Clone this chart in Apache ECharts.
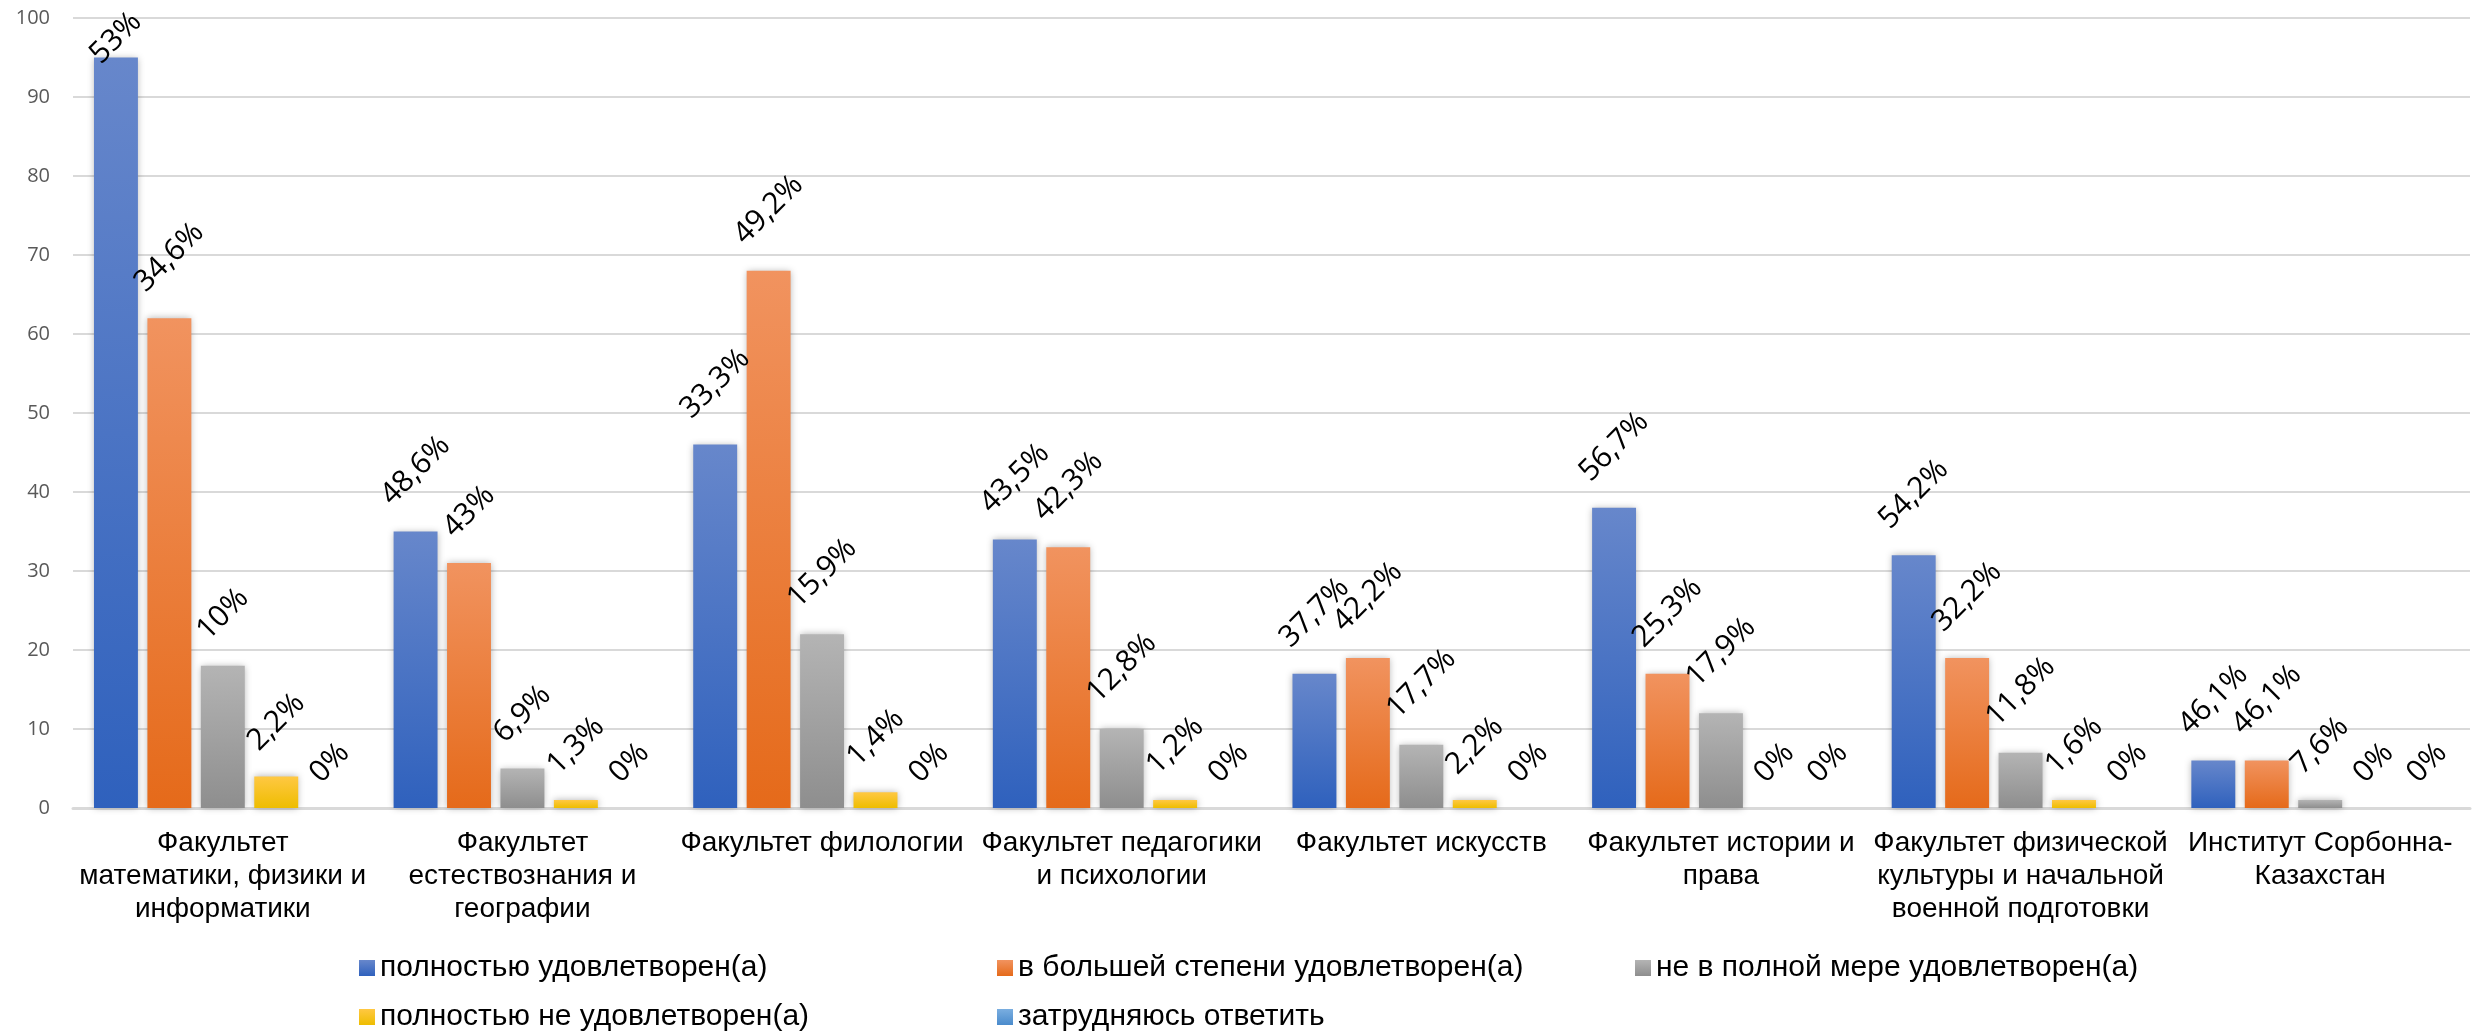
<!DOCTYPE html>
<html><head><meta charset="utf-8">
<script src="https://cdn.jsdelivr.net/npm/echarts@6/dist/echarts.min.js"></script>
<style>html,body{margin:0;padding:0;background:#fff}#c{width:2481px;height:1033px}</style>
</head><body><div id="c"></div>
<script>
const categories = [
  'Факультет\nматематики, физики и\nинформатики',
  'Факультет\nестествознания и\nгеографии',
  'Факультет филологии',
  'Факультет педагогики\nи психологии',
  'Факультет искусств',
  'Факультет истории и\nправа',
  'Факультет физической\nкультуры и начальной\nвоенной подготовки',
  'Институт Сорбонна-\nКазахстан'
];
const seriesNames = [
  'полностью удовлетворен(а)',
  'в большей степени удовлетворен(а)',
  'не в полной мере удовлетворен(а)',
  'полностью не удовлетворен(а)',
  'затрудняюсь ответить'
];
const fullySatisfied  = [95, 35, 46, 34, 17, 38, 32, 6];
const mostlySatisfied = [62, 31, 68, 33, 19, 17, 19, 6];
const partlySatisfied = [18, 5, 22, 10, 8, 12, 7, 1];
const notSatisfied    = [4, 1, 2, 1, 1, 0, 1, 0];
const hardToSay       = [0, 0, 0, 0, 0, 0, 0, 0];
const fullyLabels  = ['53%', '48,6%', '33,3%', '43,5%', '37,7%', '56,7%', '54,2%', '46,1%'];
const mostlyLabels = ['34,6%', '43%', '49,2%', '42,3%', '42,2%', '25,3%', '32,2%', '46,1%'];
const partlyLabels = ['10%', '6,9%', '15,9%', '12,8%', '17,7%', '17,9%', '11,8%', '7,6%'];
const notLabels    = ['2,2%', '1,3%', '1,4%', '1,2%', '2,2%', '0%', '1,6%', '0%'];
const hardLabels   = ['0%', '0%', '0%', '0%', '0%', '0%', '0%', '0%'];
const yTicks = [0, 10, 20, 30, 40, 50, 60, 70, 80, 90, 100];

const values = [fullySatisfied, mostlySatisfied, partlySatisfied, notSatisfied, hardToSay];
const labels = [fullyLabels, mostlyLabels, partlyLabels, notLabels, hardLabels];
const gradients = [
  ['#6787cb', '#2f61bd'],
  ['#f1935f', '#e56a1a'],
  ['#b4b4b4', '#8e8e8e'],
  ['#ffc843', '#eebd00'],
  ['#7aaee0', '#4a8bcc']
];
const LABEL_SIZE = 30;
const cv = document.createElement('canvas').getContext('2d');
cv.font = LABEL_SIZE + 'px "Open Sans"';

const chart = echarts.init(document.getElementById('c'), null, {renderer: 'canvas'});

function buildSeries(dists) {
  return seriesNames.map((name, s) => ({
    name: name,
    type: 'bar',
    barCategoryGap: '14%',
    barGap: '21.6%',
    itemStyle: {
      color: new echarts.graphic.LinearGradient(0, 0, 0, 1, [
        {offset: 0, color: gradients[s][0]},
        {offset: 1, color: gradients[s][1]}
      ]),
      shadowBlur: 7,
      shadowColor: 'rgba(0,0,0,0.30)'
    },
    label: {
      show: true,
      position: 'top',
      rotate: 45,
      align: 'center',
      verticalAlign: 'middle',
      fontSize: LABEL_SIZE,
      fontFamily: 'Open Sans',
      color: '#000',
      formatter: p => labels[s][p.dataIndex]
    },
    data: values[s].map((v, i) => dists ? ({value: v, label: {distance: dists[s][i]}}) : v)
  }));
}

const base = {
  animation: false,
  backgroundColor: '#ffffff',
  grid: {left: 73, right: 11, top: 18, bottom: 225, containLabel: false},
  legend: {
    data: seriesNames,
    icon: 'rect',
    itemWidth: 16,
    itemHeight: 16,
    itemGap: 17,
    left: 354,
    top: 947,
    width: 1900,
    textStyle: {fontSize: 30, fontFamily: 'Liberation Sans', color: '#000', width: 600, lineHeight: 32}
  },
  xAxis: {
    type: 'category',
    data: categories,
    axisLine: {lineStyle: {color: '#d9d9d9', width: 3}},
    axisTick: {show: false},
    axisLabel: {interval: 0, fontSize: 28, fontFamily: 'Liberation Sans', color: '#000', lineHeight: 33, margin: 19}
  },
  yAxis: {
    type: 'value',
    min: 0, max: 100, interval: 10,
    axisLine: {show: false},
    axisTick: {show: false},
    axisLabel: {fontSize: 20, fontFamily: 'Open Sans', color: '#595959', margin: 23,
      formatter: v => yTicks.includes(v) ? String(v) : ''},
    splitLine: {lineStyle: {color: '#d9d9d9', width: 2}}
  },
  series: buildSeries(null)
};
chart.setOption(base);

const dists = values.map((arr, s) => arr.map((v, i) => {
  const L = cv.measureText(labels[s][i]).width;
  let c = 29 + 0.38 * L;
  const top = chart.convertToPixel({yAxisIndex: 0}, v);
  if (top - c < 38) c = top - 38;
  return c;
}));
chart.setOption({series: buildSeries(dists)});
</script></body></html>
